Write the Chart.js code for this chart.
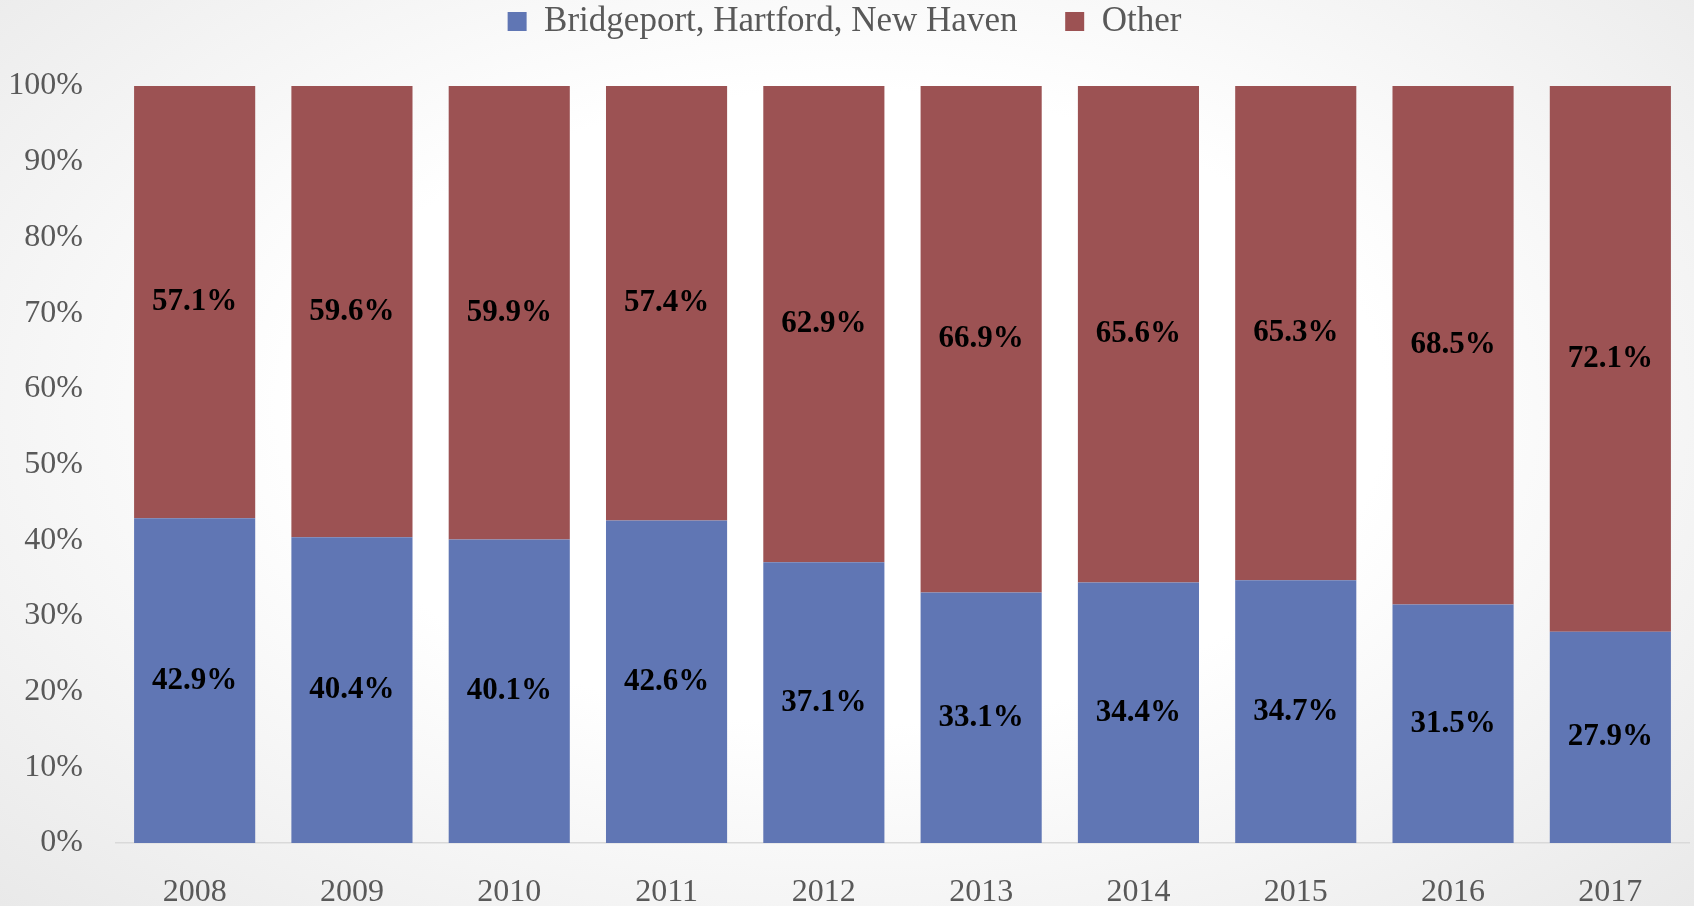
<!DOCTYPE html>
<html>
<head>
<meta charset="utf-8">
<script src="https://cdn.jsdelivr.net/npm/chart.js@4/dist/chart.umd.min.js"></script>
<style>
  html, body { margin: 0; padding: 0; }
  body {
    width: 1694px; height: 906px; overflow: hidden;
    background: radial-gradient(ellipse at 50% 45%, #ffffff 45%, #e9e9e9 100%);
  }
  #grafica { display: block; }
</style>
</head>
<body>
<canvas id="grafica" width="1694" height="906"></canvas>
<script>
const years = ['2008', '2009', '2010', '2011', '2012', '2013', '2014', '2015', '2016', '2017'];
const bigCities = [42.9, 40.4, 40.1, 42.6, 37.1, 33.1, 34.4, 34.7, 31.5, 27.9];
const other = [57.1, 59.6, 59.9, 57.4, 62.9, 66.9, 65.6, 65.3, 68.5, 72.1];
const seriesNames = ['Bridgeport, Hartford, New Haven', 'Other'];

const serif = "'Liberation Serif', 'DejaVu Serif', serif";

// etiquetas en el centro de cada segmento
const etiquetas = {
  id: 'etiquetas',
  afterDatasetsDraw(chart) {
    const ctx = chart.ctx;
    ctx.save();
    ctx.font = 'bold 31px ' + serif;
    ctx.fillStyle = '#000';
    ctx.textAlign = 'center';
    ctx.textBaseline = 'middle';
    chart.data.datasets.forEach((ds, i) => {
      chart.getDatasetMeta(i).data.forEach((bar, j) => {
        ctx.fillText(ds.data[j].toFixed(1) + '%', bar.x, (bar.y + bar.base) / 2);
      });
    });
    ctx.restore();
  }
};

// mas espacio debajo de la leyenda
const espacioLeyenda = {
  id: 'espacioLeyenda',
  beforeLayout(chart) {
    const legend = chart.legend;
    if (legend && !legend._conEspacio) {
      const fit = legend.fit;
      legend.fit = function () {
        fit.call(this);
        this.height += 37;
      };
      legend._conEspacio = true;
    }
  }
};

const ctx = document.getElementById('grafica').getContext('2d');
const myChart = new Chart(ctx, {
  type: 'bar',
  data: {
    labels: years,
    datasets: [{
      label: seriesNames[0],
      data: bigCities,
      backgroundColor: '#6076b4'
    }, {
      label: seriesNames[1],
      data: other,
      backgroundColor: '#9c5253'
    }]
  },
  options: {
    responsive: false,
    animation: false,
    layout: { padding: { top: 0, right: 5, bottom: 0, left: 0 } },
    datasets: { bar: { barPercentage: 0.77, categoryPercentage: 1 } },
    scales: {
      x: {
        stacked: true,
        grid: { display: false, drawTicks: false },
        border: { color: '#d9d9d9', width: 1.5 },
        ticks: { color: '#595959', font: { family: serif, size: 32 }, padding: 30 },
        afterFit(scale) { scale.height = 63; }
      },
      y: {
        stacked: true,
        min: 0,
        max: 100,
        grid: { display: false, drawTicks: false },
        border: { display: false },
        ticks: {
          stepSize: 10,
          color: '#595959',
          font: { family: serif, size: 32 },
          padding: 33,
          callback: v => v + '%'
        },
        afterFit(scale) { scale.width = 116; }
      }
    },
    plugins: {
      legend: {
        position: 'top',
        labels: {
          color: '#595959',
          font: { family: serif, size: 35 },
          boxWidth: 19,
          boxHeight: 19,
          padding: 4,
          generateLabels(chart) {
            const items = Chart.defaults.plugins.legend.labels.generateLabels(chart);
            items[0].text += '\u00a0\u00a0\u00a0\u00a0\u00a0';
            return items;
          }
        }
      },
      tooltip: { enabled: false }
    }
  },
  plugins: [espacioLeyenda, etiquetas]
});
</script>
</body>
</html>
